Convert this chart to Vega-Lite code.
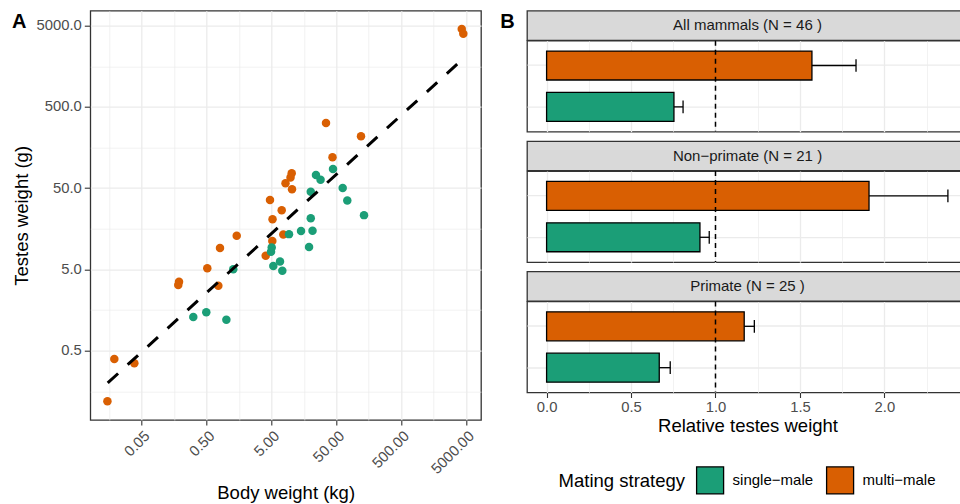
{
  "$schema": "https://vega.github.io/schema/vega-lite/v6.json",
  "autosize": {"type": "none"},
  "padding": {"left": 90.3, "top": 10.7, "right": 869.7, "bottom": 493.3},
  "background": "white",
  "config": {
    "font": "Liberation Sans",
    "view": {"stroke": "#333333", "strokeWidth": 1.3, "fill": "white"},
    "axis": {
      "gridColor": "#EBEBEB",
      "domain": false,
      "tickColor": "#333333",
      "tickWidth": 1.1,
      "labelColor": "#4D4D4D",
      "labelFontSize": 14.8,
      "labelFont": "Liberation Sans",
      "titleFont": "Liberation Sans",
      "titleFontSize": 18.5,
      "titleFontWeight": "normal",
      "titleColor": "black"
    },
    "title": {"font": "Liberation Sans"}
  },
  "resolve": {"legend": {"color": "independent"}},
  "datasets": {
    "points": [
      {"body": 0.0148, "testes": 0.119, "strategy": "multi−male"},
      {"body": 0.0189, "testes": 0.395, "strategy": "multi−male"},
      {"body": 0.0385, "testes": 0.350, "strategy": "multi−male"},
      {"body": 0.188, "testes": 3.53, "strategy": "multi−male"},
      {"body": 0.183, "testes": 3.22, "strategy": "multi−male"},
      {"body": 0.759, "testes": 3.15, "strategy": "multi−male"},
      {"body": 0.513, "testes": 5.16, "strategy": "multi−male"},
      {"body": 0.805, "testes": 9.18, "strategy": "multi−male"},
      {"body": 1.458, "testes": 13.0, "strategy": "multi−male"},
      {"body": 4.08, "testes": 7.38, "strategy": "multi−male"},
      {"body": 5.16, "testes": 11.2, "strategy": "multi−male"},
      {"body": 7.62, "testes": 13.5, "strategy": "multi−male"},
      {"body": 5.20, "testes": 20.7, "strategy": "multi−male"},
      {"body": 7.20, "testes": 26.7, "strategy": "multi−male"},
      {"body": 4.75, "testes": 35.8, "strategy": "multi−male"},
      {"body": 10.38, "testes": 48.5, "strategy": "multi−male"},
      {"body": 8.24, "testes": 57.4, "strategy": "multi−male"},
      {"body": 9.84, "testes": 67.7, "strategy": "multi−male"},
      {"body": 10.27, "testes": 76.3, "strategy": "multi−male"},
      {"body": 43.7, "testes": 120, "strategy": "multi−male"},
      {"body": 120.2, "testes": 217.7, "strategy": "multi−male"},
      {"body": 34.7, "testes": 317.3, "strategy": "multi−male"},
      {"body": 4295, "testes": 4552, "strategy": "multi−male"},
      {"body": 4542, "testes": 3986, "strategy": "multi−male"},
      {"body": 0.312, "testes": 1.30, "strategy": "single−male"},
      {"body": 0.495, "testes": 1.49, "strategy": "single−male"},
      {"body": 1.01, "testes": 1.20, "strategy": "single−male"},
      {"body": 1.29, "testes": 5.02, "strategy": "single−male"},
      {"body": 5.35, "testes": 5.51, "strategy": "single−male"},
      {"body": 6.78, "testes": 6.26, "strategy": "single−male"},
      {"body": 7.36, "testes": 4.83, "strategy": "single−male"},
      {"body": 5.05, "testes": 9.31, "strategy": "single−male"},
      {"body": 4.93, "testes": 8.27, "strategy": "single−male"},
      {"body": 19.0, "testes": 9.44, "strategy": "single−male"},
      {"body": 9.33, "testes": 13.6, "strategy": "single−male"},
      {"body": 14.3, "testes": 14.9, "strategy": "single−male"},
      {"body": 21.5, "testes": 15.0, "strategy": "single−male"},
      {"body": 20.2, "testes": 21.4, "strategy": "single−male"},
      {"body": 133.8, "testes": 23.3, "strategy": "single−male"},
      {"body": 20.2, "testes": 45.3, "strategy": "single−male"},
      {"body": 73.9, "testes": 35.3, "strategy": "single−male"},
      {"body": 62.8, "testes": 50.3, "strategy": "single−male"},
      {"body": 28.6, "testes": 63.6, "strategy": "single−male"},
      {"body": 24.3, "testes": 72.7, "strategy": "single−male"},
      {"body": 44.5, "testes": 86.1, "strategy": "single−male"}
    ],
    "fit": [
      {"body": 0.01496, "testes": 0.2005},
      {"body": 4018, "testes": 1802}
    ],
    "bars": [
      {"group": "All", "label": "All mammals (N = 46 )", "strategy": "multi−male", "mean": 1.571, "upper": 1.832},
      {"group": "All", "label": "All mammals (N = 46 )", "strategy": "single−male", "mean": 0.754, "upper": 0.808},
      {"group": "Non", "label": "Non−primate (N = 21 )", "strategy": "multi−male", "mean": 1.909, "upper": 2.376},
      {"group": "Non", "label": "Non−primate (N = 21 )", "strategy": "single−male", "mean": 0.908, "upper": 0.963},
      {"group": "Pri", "label": "Primate (N = 25 )", "strategy": "multi−male", "mean": 1.170, "upper": 1.230},
      {"group": "Pri", "label": "Primate (N = 25 )", "strategy": "single−male", "mean": 0.667, "upper": 0.732}
    ],
    "ref": [{"v": 1}]
  },
  "hconcat": [
    {
      "width": 390.7,
      "height": 409.3,
      "title": {"text": "A", "anchor": "start", "fontSize": 20, "fontWeight": "bold", "color": "black", "offset": -21.5},
      "layer": [
        {
          "data": {"name": "points"},
          "mark": {"type": "circle", "size": 72, "opacity": 1},
          "encoding": {
            "x": {
              "field": "body", "type": "quantitative", "title": "Body weight (kg)",
              "scale": {"type": "log", "domain": [0.00806, 8511], "nice": false},
              "axis": {
                "values": [0.0158114, 0.05, 0.158114, 0.5, 1.58114, 5, 15.8114, 50, 158.114, 500, 1581.14, 5000],
                "labelExpr": "indexof([0.05,0.5,5,50,500,5000], datum.value) >= 0 ? format(datum.value, '.2f') : ''",
                "labelAngle": -45, "labelAlign": "right", "labelBaseline": "top",
                "labelOverlap": false, "labelFlush": false,
                "tickSize": 5, "labelPadding": 3, "titlePadding": 7,
                "tickOpacity": {"condition": {"test": "indexof([0.05,0.5,5,50,500,5000], datum.value) >= 0", "value": 1}, "value": 0},
                "gridWidth": {"condition": {"test": "indexof([0.05,0.5,5,50,500,5000], datum.value) >= 0", "value": 1.3}, "value": 0.65}
              }
            },
            "y": {
              "field": "testes", "type": "quantitative", "title": "Testes weight (g)",
              "scale": {"type": "log", "domain": [0.0701, 7649], "nice": false},
              "axis": {
                "values": [0.158114, 0.5, 1.58114, 5, 15.8114, 50, 158.114, 500, 1581.14, 5000],
                "labelExpr": "indexof([0.5,5,50,500,5000], datum.value) >= 0 ? format(datum.value, '.1f') : ''",
                "labelOverlap": false, "labelFlush": false,
                "tickSize": 6, "labelPadding": 3, "titlePadding": 5,
                "tickOpacity": {"condition": {"test": "indexof([0.5,5,50,500,5000], datum.value) >= 0", "value": 1}, "value": 0},
                "gridWidth": {"condition": {"test": "indexof([0.5,5,50,500,5000], datum.value) >= 0", "value": 1.3}, "value": 0.65}
              }
            },
            "color": {
              "field": "strategy", "type": "nominal",
              "scale": {"domain": ["single−male", "multi−male"], "range": ["#1B9E77", "#D95F02"]},
              "legend": null
            }
          }
        },
        {
          "data": {"name": "fit"},
          "mark": {"type": "line", "color": "black", "strokeWidth": 3, "strokeDash": [14, 13]},
          "encoding": {
            "x": {"field": "body", "type": "quantitative", "title": "Body weight (kg)"},
            "y": {"field": "testes", "type": "quantitative", "title": "Testes weight (g)"}
          }
        }
      ]
    },
    {
      "title": {"text": "B", "anchor": "start", "fontSize": 20, "fontWeight": "bold", "color": "black", "offset": -21.5, "dx": -26},
      "spacing": 6.4,
      "vconcat": [
        {
          "spacing": 0,
          "bounds": "flush",
          "vconcat": [
            {
              "width": 441, "height": 29.4,
              "view": {"fill": "#D9D9D9", "stroke": "#333333", "strokeWidth": 1.3},
              "data": {"name": "bars"},
              "transform": [{"filter": "datum.group === 'All' && datum.strategy === 'multi−male'"}],
              "mark": {"type": "text", "fontSize": 15, "color": "#1A1A1A"},
              "encoding": {"text": {"field": "label"}}
            },
            {
              "width": 441, "height": 91,
              "data": {"name": "bars"},
              "transform": [{"filter": "datum.group === 'All'"}],
              "layer": [
                {
                  "mark": {"type": "bar", "stroke": "black", "strokeWidth": 1.3, "opacity": 1},
                  "encoding": {
                    "y": {"field": "strategy", "type": "nominal", "scale": {"domain": ["multi−male", "single−male"], "paddingInner": 0.3, "paddingOuter": 0.25},
                          "axis": {"title": null, "labels": false, "ticks": false, "domain": false, "grid": true, "gridWidth": 1.3}},
                    "x": {"field": "mean", "type": "quantitative", "title": null, "scale": {"domain": [-0.116, 2.495], "nice": false, "zero": false},
                          "axis": {"values": [0, 0.25, 0.5, 0.75, 1, 1.25, 1.5, 1.75, 2, 2.25], "labels": false, "ticks": false,
                                   "gridWidth": {"condition": {"test": "datum.value % 0.5 === 0", "value": 1.3}, "value": 0.65}}},
                    "x2": {"datum": 0},
                    "color": {"field": "strategy", "type": "nominal", "scale": {"domain": ["single−male", "multi−male"], "range": ["#1B9E77", "#D95F02"]},
                              "legend": {"title": "Mating strategy", "orient": "none", "legendX": 31.6, "legendY": 455, "direction": "horizontal",
                                         "titleOrient": "left", "symbolType": "square", "symbolSize": 729, "symbolStrokeColor": "black", "symbolStrokeWidth": 1.3,
                                         "symbolOpacity": 1, "labelFontSize": 15, "titleFontSize": 18.5, "titleFontWeight": "normal", "titleColor": "black",
                                         "labelColor": "black", "columnPadding": 10, "labelOffset": 8, "titlePadding": 10}}
                  }
                },
                {
                  "mark": {"type": "rule", "color": "black", "strokeWidth": 1.3},
                  "encoding": {
                    "y": {"field": "strategy", "type": "nominal", "scale": {"domain": ["multi−male", "single−male"]}},
                    "x": {"field": "mean", "type": "quantitative", "title": null, "scale": {"domain": [-0.116, 2.495], "nice": false, "zero": false}},
                    "x2": {"field": "upper"}
                  }
                },
                {
                  "mark": {"type": "tick", "color": "black", "thickness": 1.3, "size": 12.7, "orient": "vertical", "opacity": 1},
                  "encoding": {
                    "y": {"field": "strategy", "type": "nominal", "scale": {"domain": ["multi−male", "single−male"]}},
                    "x": {"field": "upper", "type": "quantitative", "title": null, "scale": {"domain": [-0.116, 2.495], "nice": false, "zero": false}}
                  }
                },
                {
                  "data": {"name": "ref"},
                  "mark": {"type": "rule", "color": "black", "strokeWidth": 1.5, "strokeDash": [5, 4]},
                  "encoding": {
                    "x": {"field": "v", "type": "quantitative", "title": null, "scale": {"domain": [-0.116, 2.495], "nice": false, "zero": false}}
                  }
                }
              ]
            }
          ]
        },
        {
          "spacing": 0,
          "bounds": "flush",
          "vconcat": [
            {
              "width": 441, "height": 29.4,
              "view": {"fill": "#D9D9D9", "stroke": "#333333", "strokeWidth": 1.3},
              "data": {"name": "bars"},
              "transform": [{"filter": "datum.group === 'Non' && datum.strategy === 'multi−male'"}],
              "mark": {"type": "text", "fontSize": 15, "color": "#1A1A1A"},
              "encoding": {"text": {"field": "label"}}
            },
            {
              "width": 441, "height": 91,
              "data": {"name": "bars"},
              "transform": [{"filter": "datum.group === 'Non'"}],
              "layer": [
                {
                  "mark": {"type": "bar", "stroke": "black", "strokeWidth": 1.3, "opacity": 1},
                  "encoding": {
                    "y": {"field": "strategy", "type": "nominal", "scale": {"domain": ["multi−male", "single−male"], "paddingInner": 0.3, "paddingOuter": 0.25},
                          "axis": {"title": null, "labels": false, "ticks": false, "domain": false, "grid": true, "gridWidth": 1.3}},
                    "x": {"field": "mean", "type": "quantitative", "title": null, "scale": {"domain": [-0.116, 2.495], "nice": false, "zero": false},
                          "axis": {"values": [0, 0.25, 0.5, 0.75, 1, 1.25, 1.5, 1.75, 2, 2.25], "labels": false, "ticks": false,
                                   "gridWidth": {"condition": {"test": "datum.value % 0.5 === 0", "value": 1.3}, "value": 0.65}}},
                    "x2": {"datum": 0},
                    "color": {"field": "strategy", "type": "nominal", "scale": {"domain": ["single−male", "multi−male"], "range": ["#1B9E77", "#D95F02"]},
                              "legend": {"title": "Mating strategy", "orient": "none", "legendX": 31.6, "legendY": 455, "direction": "horizontal",
                                         "titleOrient": "left", "symbolType": "square", "symbolSize": 729, "symbolStrokeColor": "black", "symbolStrokeWidth": 1.3,
                                         "symbolOpacity": 1, "labelFontSize": 15, "titleFontSize": 18.5, "titleFontWeight": "normal", "titleColor": "black",
                                         "labelColor": "black", "columnPadding": 10, "labelOffset": 8, "titlePadding": 10}}
                  }
                },
                {
                  "mark": {"type": "rule", "color": "black", "strokeWidth": 1.3},
                  "encoding": {
                    "y": {"field": "strategy", "type": "nominal", "scale": {"domain": ["multi−male", "single−male"]}},
                    "x": {"field": "mean", "type": "quantitative", "title": null, "scale": {"domain": [-0.116, 2.495], "nice": false, "zero": false}},
                    "x2": {"field": "upper"}
                  }
                },
                {
                  "mark": {"type": "tick", "color": "black", "thickness": 1.3, "size": 12.7, "orient": "vertical", "opacity": 1},
                  "encoding": {
                    "y": {"field": "strategy", "type": "nominal", "scale": {"domain": ["multi−male", "single−male"]}},
                    "x": {"field": "upper", "type": "quantitative", "title": null, "scale": {"domain": [-0.116, 2.495], "nice": false, "zero": false}}
                  }
                },
                {
                  "data": {"name": "ref"},
                  "mark": {"type": "rule", "color": "black", "strokeWidth": 1.5, "strokeDash": [5, 4]},
                  "encoding": {
                    "x": {"field": "v", "type": "quantitative", "title": null, "scale": {"domain": [-0.116, 2.495], "nice": false, "zero": false}}
                  }
                }
              ]
            }
          ]
        },
        {
          "spacing": 0,
          "bounds": "flush",
          "vconcat": [
            {
              "width": 441, "height": 29.4,
              "view": {"fill": "#D9D9D9", "stroke": "#333333", "strokeWidth": 1.3},
              "data": {"name": "bars"},
              "transform": [{"filter": "datum.group === 'Pri' && datum.strategy === 'multi−male'"}],
              "mark": {"type": "text", "fontSize": 15, "color": "#1A1A1A"},
              "encoding": {"text": {"field": "label"}}
            },
            {
              "width": 441, "height": 91,
              "data": {"name": "bars"},
              "transform": [{"filter": "datum.group === 'Pri'"}],
              "layer": [
                {
                  "mark": {"type": "bar", "stroke": "black", "strokeWidth": 1.3, "opacity": 1},
                  "encoding": {
                    "y": {"field": "strategy", "type": "nominal", "scale": {"domain": ["multi−male", "single−male"], "paddingInner": 0.3, "paddingOuter": 0.25},
                          "axis": {"title": null, "labels": false, "ticks": false, "domain": false, "grid": true, "gridWidth": 1.3}},
                    "x": {"field": "mean", "type": "quantitative", "title": "Relative testes weight", "scale": {"domain": [-0.116, 2.495], "nice": false, "zero": false},
                          "axis": {"values": [0, 0.25, 0.5, 0.75, 1, 1.25, 1.5, 1.75, 2, 2.25],
                                   "labelExpr": "datum.value % 0.5 === 0 ? format(datum.value, '.1f') : ''",
                                   "labelOverlap": false, "labelFlush": false,
                                   "tickSize": 5, "labelPadding": 2, "titlePadding": 2,
                                   "tickOpacity": {"condition": {"test": "datum.value % 0.5 === 0", "value": 1}, "value": 0},
                                   "gridWidth": {"condition": {"test": "datum.value % 0.5 === 0", "value": 1.3}, "value": 0.65}}},
                    "x2": {"datum": 0},
                    "color": {"field": "strategy", "type": "nominal", "scale": {"domain": ["single−male", "multi−male"], "range": ["#1B9E77", "#D95F02"]},
                              "legend": {"title": "Mating strategy", "orient": "none", "legendX": 31.6, "legendY": 455, "direction": "horizontal",
                                         "titleOrient": "left", "symbolType": "square", "symbolSize": 729, "symbolStrokeColor": "black", "symbolStrokeWidth": 1.3,
                                         "symbolOpacity": 1, "labelFontSize": 15, "titleFontSize": 18.5, "titleFontWeight": "normal", "titleColor": "black",
                                         "labelColor": "black", "columnPadding": 10, "labelOffset": 8, "titlePadding": 10}}
                  }
                },
                {
                  "mark": {"type": "rule", "color": "black", "strokeWidth": 1.3},
                  "encoding": {
                    "y": {"field": "strategy", "type": "nominal", "scale": {"domain": ["multi−male", "single−male"]}},
                    "x": {"field": "mean", "type": "quantitative", "title": "Relative testes weight", "scale": {"domain": [-0.116, 2.495], "nice": false, "zero": false}},
                    "x2": {"field": "upper"}
                  }
                },
                {
                  "mark": {"type": "tick", "color": "black", "thickness": 1.3, "size": 12.7, "orient": "vertical", "opacity": 1},
                  "encoding": {
                    "y": {"field": "strategy", "type": "nominal", "scale": {"domain": ["multi−male", "single−male"]}},
                    "x": {"field": "upper", "type": "quantitative", "title": "Relative testes weight", "scale": {"domain": [-0.116, 2.495], "nice": false, "zero": false}}
                  }
                },
                {
                  "data": {"name": "ref"},
                  "mark": {"type": "rule", "color": "black", "strokeWidth": 1.5, "strokeDash": [5, 4]},
                  "encoding": {
                    "x": {"field": "v", "type": "quantitative", "title": "Relative testes weight", "scale": {"domain": [-0.116, 2.495], "nice": false, "zero": false}}
                  }
                }
              ]
            }
          ]
        }
      ]
    }
  ],
  "spacing": 45.7,
  "bounds": "flush"
}
